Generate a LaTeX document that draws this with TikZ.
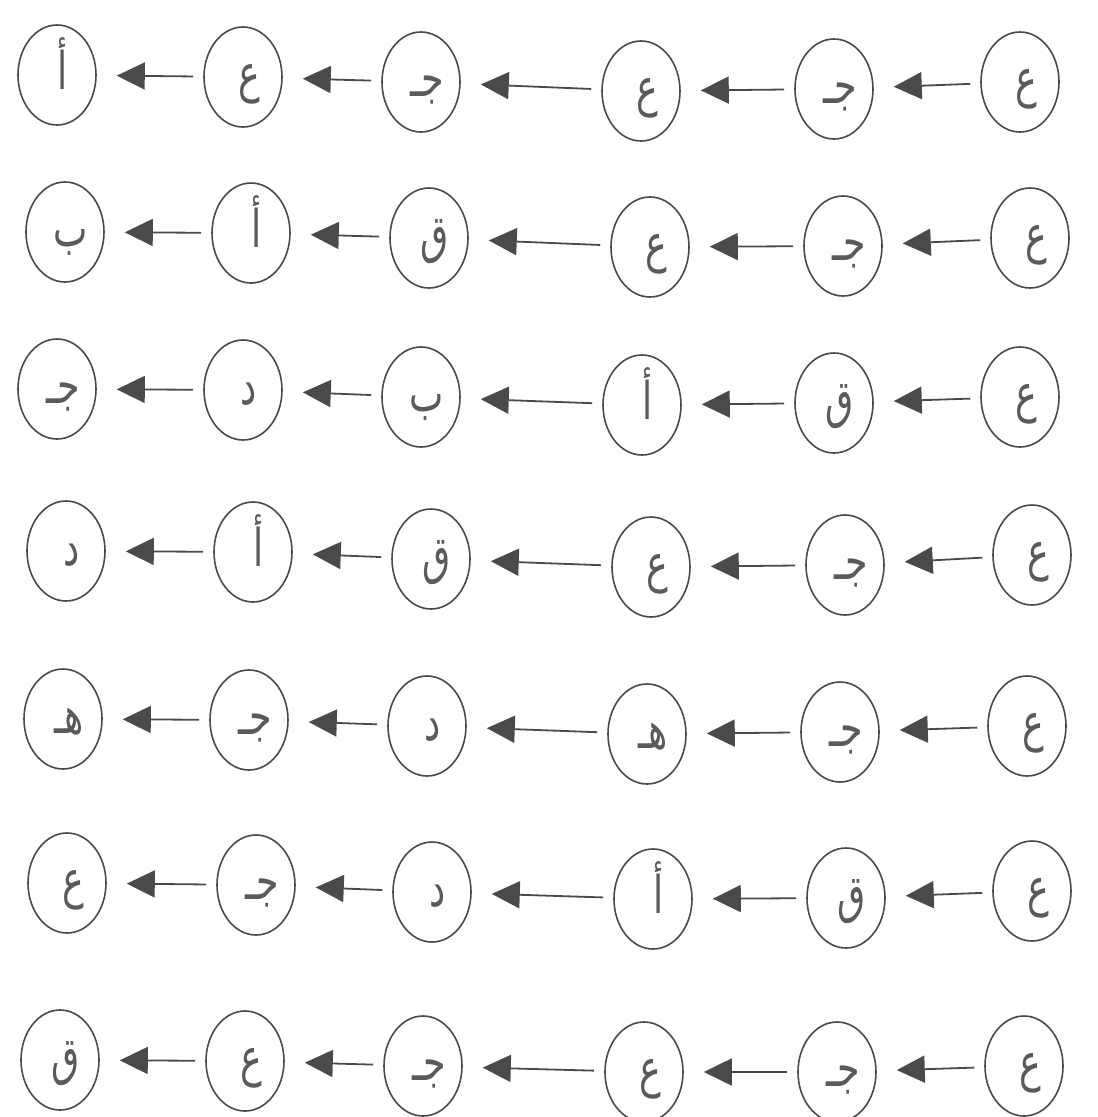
\documentclass[tikz,border=0pt]{standalone}
\usepackage{fontspec}
\usetikzlibrary{arrows.meta,shapes.geometric}
\TeXXeTstate=1
\newfontfamily\arabicfont[Script=Arabic,FakeStretch=0.7]{DejaVu Sans}
\definecolor{ink}{HTML}{4A4A4A}
\definecolor{letter}{HTML}{5A5A5A}
\newcommand\arlet[1]{\hspace*{12pt}{\arabicfont\beginR #1\endR}}
\begin{document}
\begin{tikzpicture}[x=1pt,y=-1pt,
  oval/.style={ellipse,draw=ink,line width=1.6pt,minimum width=78pt,minimum height=100pt,inner sep=0pt,
    text=letter,text height=28pt,text depth=0pt,font=\fontsize{52}{52}\selectfont},
  arr/.style={draw=ink,line width=1.8pt,-{Triangle[length=28pt,width=27pt]},shorten >=20pt,shorten <=10pt}]
\useasboundingbox[fill=white] (0,0) rectangle (1098,1117);
% row 1
\node[oval] (r1-1) at (57,75)   {\arlet{أ}};
\node[oval] (r1-2) at (243,77)  {\arlet{ع}};
\node[oval] (r1-3) at (421,82)  {\arlet{جـ}};
\node[oval] (r1-4) at (641,91)  {\arlet{ع}};
\node[oval] (r1-5) at (834,89)  {\arlet{جـ}};
\node[oval] (r1-6) at (1020,82) {\arlet{ع}};
% row 2
\node[oval] (r2-1) at (65,232)   {\arlet{ب}};
\node[oval] (r2-2) at (251,233)  {\arlet{أ}};
\node[oval] (r2-3) at (429,238)  {\arlet{ق}};
\node[oval] (r2-4) at (650,247)  {\arlet{ع}};
\node[oval] (r2-5) at (843,246)  {\arlet{جـ}};
\node[oval] (r2-6) at (1030,238) {\arlet{ع}};
% row 3
\node[oval] (r3-1) at (57,389)   {\arlet{جـ}};
\node[oval] (r3-2) at (243,390)  {\arlet{د}};
\node[oval] (r3-3) at (421,397)  {\arlet{ب}};
\node[oval] (r3-4) at (642,405)  {\arlet{أ}};
\node[oval] (r3-5) at (834,403)  {\arlet{ق}};
\node[oval] (r3-6) at (1020,397) {\arlet{ع}};
% row 4
\node[oval] (r4-1) at (66,551)   {\arlet{د}};
\node[oval] (r4-2) at (253,552)  {\arlet{أ}};
\node[oval] (r4-3) at (431,559)  {\arlet{ق}};
\node[oval] (r4-4) at (651,567)  {\arlet{ع}};
\node[oval] (r4-5) at (845,565)  {\arlet{جـ}};
\node[oval] (r4-6) at (1032,555) {\arlet{ع}};
% row 5
\node[oval] (r5-1) at (63,719)   {\arlet{هـ}};
\node[oval] (r5-2) at (249,720)  {\arlet{جـ}};
\node[oval] (r5-3) at (427,726)  {\arlet{د}};
\node[oval] (r5-4) at (647,734)  {\arlet{هـ}};
\node[oval] (r5-5) at (840,732)  {\arlet{جـ}};
\node[oval] (r5-6) at (1027,726) {\arlet{ع}};
% row 6
\node[oval] (r6-1) at (67,883)   {\arlet{ع}};
\node[oval] (r6-2) at (256,885)  {\arlet{جـ}};
\node[oval] (r6-3) at (432,892)  {\arlet{د}};
\node[oval] (r6-4) at (653,899)  {\arlet{أ}};
\node[oval] (r6-5) at (846,898)  {\arlet{ق}};
\node[oval] (r6-6) at (1032,891) {\arlet{ع}};
% row 7
\node[oval] (r7-1) at (60,1060)   {\arlet{ق}};
\node[oval] (r7-2) at (245,1061)  {\arlet{ع}};
\node[oval] (r7-3) at (423,1066)  {\arlet{جـ}};
\node[oval] (r7-4) at (644,1072)  {\arlet{ع}};
\node[oval] (r7-5) at (837,1072)  {\arlet{جـ}};
\node[oval] (r7-6) at (1024,1066) {\arlet{ع}};
% arrows
\foreach \i in {1,...,7}{
  \foreach \j [evaluate=\j as \k using int(\j+1)] in {1,...,5}{
    \draw[arr] (r\i-\k) -- (r\i-\j);
  }
}
\end{tikzpicture}
\end{document}
